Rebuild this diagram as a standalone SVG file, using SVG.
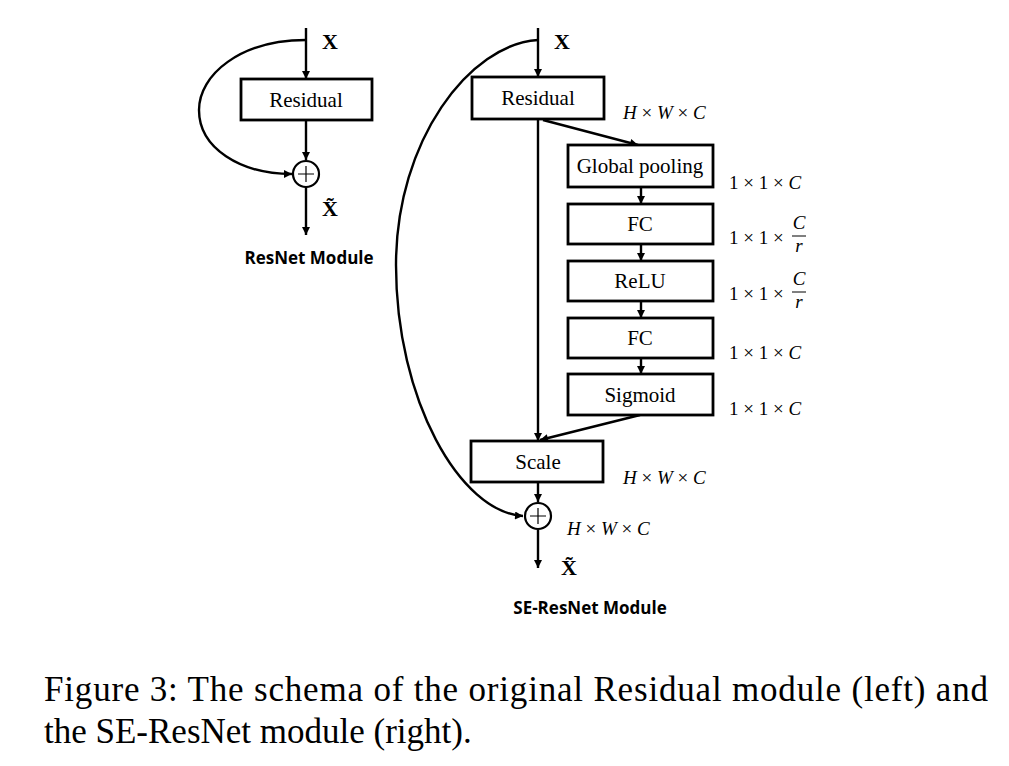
<svg xmlns="http://www.w3.org/2000/svg" width="1009" height="766" viewBox="0 0 1009 766">
<style>
.box{fill:#fff;stroke:#000;stroke-width:2.8}
.ln{fill:none;stroke:#000;stroke-width:2.4}
.lbl{font-family:"Liberation Serif",serif;font-size:21px;text-anchor:middle;fill:#000}
.math{font-family:"Liberation Serif",serif;font-size:19px;fill:#000}
.it{font-style:italic}
.bx{font-family:"Liberation Serif",serif;font-size:22px;font-weight:bold;fill:#000}
.title{font-family:"Open Sans","Liberation Sans",sans-serif;font-size:17px;font-weight:bold;text-anchor:middle;fill:#000}
.cap{font-family:"Liberation Serif",serif;font-size:35px;fill:#000}
</style>
<defs>
<marker id="ah" viewBox="0 0 10 10" refX="10" refY="5" markerWidth="9" markerHeight="8" markerUnits="userSpaceOnUse" orient="auto">
<path d="M0,0 L10,5 L0,10 z" fill="#000"/>
</marker>
</defs>

<g id="connectors">
<line class="ln" x1="306" y1="28" x2="306" y2="79" marker-end="url(#ah)"/>
<line class="ln" x1="306" y1="120" x2="306" y2="160" marker-end="url(#ah)"/>
<line class="ln" x1="306" y1="187" x2="306" y2="235" marker-end="url(#ah)"/>
<path class="ln" d="M306,40 C240,40 199,75 199,110 C199,148 240,174 292,174" marker-end="url(#ah)"/>
<line class="ln" x1="538" y1="28" x2="538" y2="77" marker-end="url(#ah)"/>
<path class="ln" d="M543,120 L638,145" marker-end="url(#ah)"/>
<line class="ln" x1="538" y1="120" x2="538" y2="441" marker-end="url(#ah)"/>
<line class="ln" x1="641" y1="187" x2="641" y2="204" marker-end="url(#ah)"/>
<line class="ln" x1="641" y1="244" x2="641" y2="261" marker-end="url(#ah)"/>
<line class="ln" x1="641" y1="301" x2="641" y2="318" marker-end="url(#ah)"/>
<line class="ln" x1="641" y1="358" x2="641" y2="374" marker-end="url(#ah)"/>
<path class="ln" d="M640,415 L540,440" marker-end="url(#ah)"/>
<line class="ln" x1="538" y1="482" x2="538" y2="502" marker-end="url(#ah)"/>
<line class="ln" x1="538" y1="530" x2="538" y2="568" marker-end="url(#ah)"/>
<path class="ln" d="M538,40 C470,44 396,140 396,265 C396,400 460,512 523,516" marker-end="url(#ah)"/>
</g>

<g id="left-input"><text class="bx" x="322" y="49">X</text></g>
<g id="left-residual">
<rect class="box" x="241" y="79" width="131" height="41"/>
<text class="lbl" x="306" y="107">Residual</text>
</g>
<g id="left-sum">
<circle cx="306" cy="174" r="13" fill="#fff" stroke="#000" stroke-width="2.2"/>
<path d="M306,166 V182 M298,174 H314" stroke="#000" stroke-width="1.2"/>
</g>
<g id="left-output"><text class="bx" x="322" y="216">X̃</text></g>
<g id="left-title"><text class="title" x="309" y="264">ResNet Module</text></g>

<g id="right-input"><text class="bx" x="554" y="49">X</text></g>
<g id="residual">
<rect class="box" x="472" y="77" width="132" height="42"/>
<text class="lbl" x="538" y="105">Residual</text>
<text class="math it" x="623" y="119">H <tspan font-style="normal">×</tspan> W <tspan font-style="normal">×</tspan> C</text>
</g>
<g id="global-pooling">
<rect class="box" x="568" y="145" width="145" height="42"/>
<text class="lbl" x="640" y="173">Global pooling</text>
<text class="math" x="729" y="189">1 × 1 × <tspan class="it">C</tspan></text>
</g>
<g id="fc1">
<rect class="box" x="568" y="204" width="145" height="40"/>
<text class="lbl" x="640" y="231">FC</text>
<text class="math" x="729" y="244">1 × 1 ×</text>
<text class="math it" x="799" y="229" text-anchor="middle">C</text>
<line x1="792" y1="236" x2="806" y2="236" stroke="#000" stroke-width="1"/>
<text class="math it" x="799" y="252" text-anchor="middle">r</text>
</g>
<g id="relu">
<rect class="box" x="568" y="261" width="145" height="40"/>
<text class="lbl" x="640" y="288">ReLU</text>
<text class="math" x="729" y="300">1 × 1 ×</text>
<text class="math it" x="799" y="285" text-anchor="middle">C</text>
<line x1="792" y1="292" x2="806" y2="292" stroke="#000" stroke-width="1"/>
<text class="math it" x="799" y="308" text-anchor="middle">r</text>
</g>
<g id="fc2">
<rect class="box" x="568" y="318" width="145" height="40"/>
<text class="lbl" x="640" y="345">FC</text>
<text class="math" x="729" y="359">1 × 1 × <tspan class="it">C</tspan></text>
</g>
<g id="sigmoid">
<rect class="box" x="568" y="374" width="145" height="41"/>
<text class="lbl" x="640" y="402">Sigmoid</text>
<text class="math" x="729" y="415">1 × 1 × <tspan class="it">C</tspan></text>
</g>
<g id="scale">
<rect class="box" x="471" y="441" width="132" height="41"/>
<text class="lbl" x="538" y="469">Scale</text>
<text class="math it" x="623" y="484">H <tspan font-style="normal">×</tspan> W <tspan font-style="normal">×</tspan> C</text>
</g>
<g id="right-sum">
<circle cx="538" cy="516" r="13" fill="#fff" stroke="#000" stroke-width="2.2"/>
<path d="M538,508 V524 M530,516 H546" stroke="#000" stroke-width="1.2"/>
<text class="math it" x="567" y="535">H <tspan font-style="normal">×</tspan> W <tspan font-style="normal">×</tspan> C</text>
</g>
<g id="right-output"><text class="bx" x="561" y="575">X̃</text></g>
<g id="right-title"><text class="title" x="590" y="614">SE-ResNet Module</text></g>

<g id="caption">
<text class="cap" x="44" y="701" textLength="944" lengthAdjust="spacing">Figure 3: The schema of the original Residual module (left) and</text>
<text class="cap" x="44" y="743">the SE-ResNet module (right).</text>
</g>
</svg>
